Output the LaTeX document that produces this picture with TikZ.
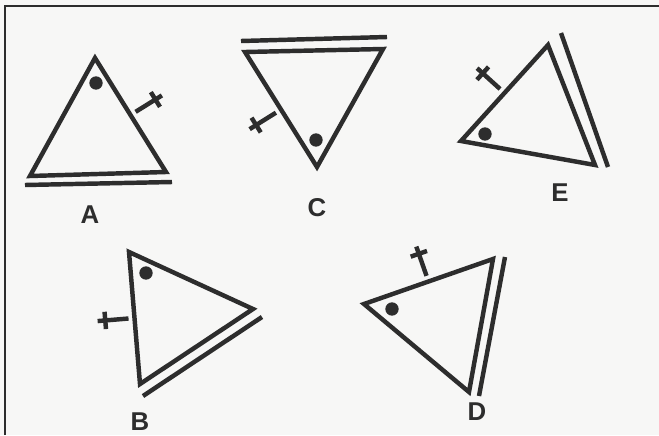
\documentclass[tikz,border=0pt]{standalone}
\usepackage{fontspec}
\setmainfont{Liberation Sans}
\usetikzlibrary{calc}

\definecolor{paper}{RGB}{247,247,246}
\definecolor{ink}{RGB}{45,45,45}

% tick on the side #1 -> #2 (outside of a clockwise triangle)
\newcommand{\sidetick}[2]{%
    \coordinate (m) at ($(#1)!0.5!(#2)$);
    \coordinate (m1) at ($(m)!0.26cm!(#2)$);
    \coordinate (m2) at ($(m)!-0.26cm!(#2)$);
    \draw[tri] ($(m)!0.18cm!90:(#2)$) -- ($(m)!1.11cm!90:(#2)$);
    \draw[tri] ($(m1)!0.88cm!90:(#2)$) -- ($(m2)!0.88cm!90:(#2)$);
}

\begin{document}
\begin{tikzpicture}[x=0.03cm, y=-0.03cm,
    tri/.style={draw=ink, line width=3.8pt, line join=miter},
    parline/.style={draw=ink, line width=3.8pt},
    dotmark/.style={circle, fill=ink, minimum size=0.4cm, inner sep=0pt},
    lbl/.style={font=\fontsize{22}{22}\selectfont\bfseries, text=ink}]

    % Page
    \fill[paper] (0,0) rectangle (659,435);
    \useasboundingbox (0,0) rectangle (659,435);
    \draw[ink, line width=1.2pt] (5,435) -- (5,6) -- (659,6);

    % Triangle A
    \coordinate (a1) at (95,58);
    \coordinate (a2) at (166,172);
    \coordinate (a3) at (30,176);
    \draw[tri] (a1) -- (a2) -- (a3) -- cycle;
    \draw[parline] (25,185) -- (172,182);
    \node[dotmark] (dotA) at (96,83) {};
    \sidetick{a1}{a2}
    \node[lbl] (labA) at (90,215) {A};

    % Triangle C
    \coordinate (c1) at (245,52);
    \coordinate (c2) at (383,49);
    \coordinate (c3) at (317,167);
    \draw[tri] (c1) -- (c2) -- (c3) -- cycle;
    \draw[parline] (241,41) -- (387,37);
    \node[dotmark] (dotC) at (316,140) {};
    \sidetick{c3}{c1}
    \node[lbl] (labC) at (317,208) {C};

    % Triangle E
    \coordinate (e1) at (548,45);
    \coordinate (e2) at (595,165);
    \coordinate (e3) at (461,141);
    \draw[tri] (e1) -- (e2) -- (e3) -- cycle;
    \draw[parline] (561,33) -- (608,167);
    \node[dotmark] (dotE) at (485,134) {};
    \sidetick{e3}{e1}
    \node[lbl] (labE) at (560,193) {E};

    % Triangle B
    \coordinate (b1) at (129,252);
    \coordinate (b2) at (253,309);
    \coordinate (b3) at (140,384);
    \draw[tri] (b1) -- (b2) -- (b3) -- cycle;
    \draw[parline] (262,317) -- (143,396);
    \node[dotmark] (dotB) at (146,273) {};
    \sidetick{b3}{b1}
    \node[lbl] (labB) at (140,422) {B};

    % Triangle D
    \coordinate (d1) at (364,304);
    \coordinate (d2) at (493,259);
    \coordinate (d3) at (469,392);
    \draw[tri] (d1) -- (d2) -- (d3) -- cycle;
    \draw[parline] (505,257) -- (479,396);
    \node[dotmark] (dotD) at (392,309) {};
    \sidetick{d1}{d2}
    \node[lbl] (labD) at (477,412) {D};

\end{tikzpicture}
\end{document}
